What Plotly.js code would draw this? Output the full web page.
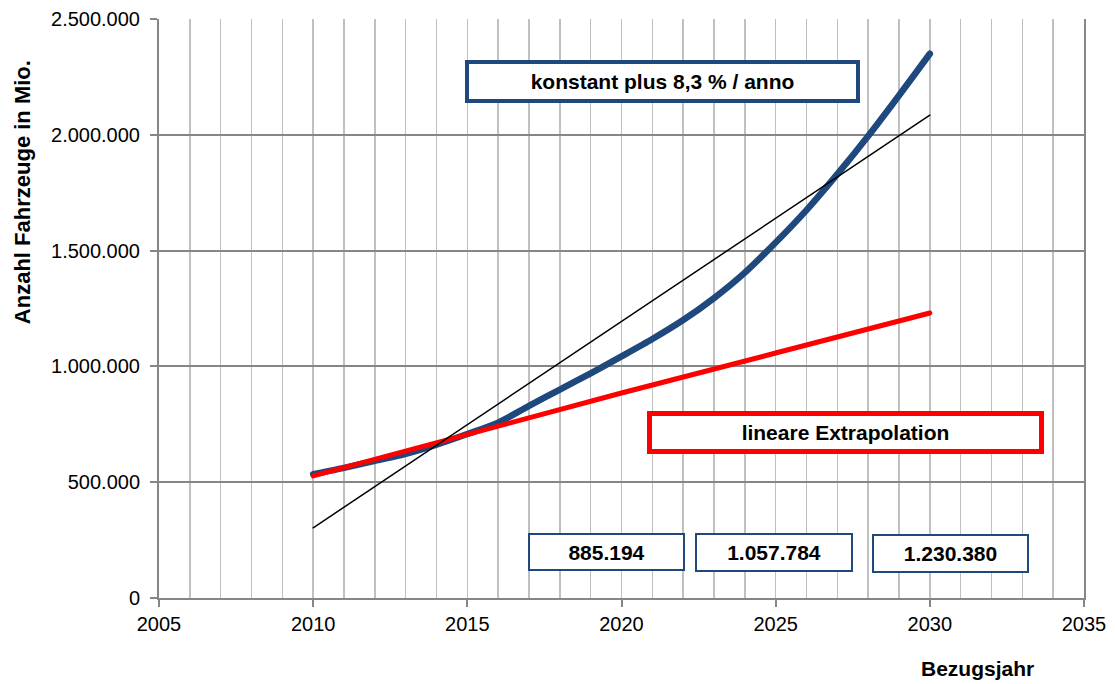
<!DOCTYPE html>
<html>
<head>
<meta charset="utf-8">
<script src="https://cdn.plot.ly/plotly-3.0.1.min.js"></script>
<style>
html,body{margin:0;padding:0;background:#fff;}
path.js-line{stroke-linecap:round;}
</style>
</head>
<body>
<div id="chart" style="width:1115px;height:684px;"></div>
<script>
// Blue series: constant growth 8.3 % per year
const years = [2010,2011,2012,2013,2014,2015,2016,2017,2018,2019,2020,2021,2022,2023,2024,2025,2026,2027,2028,2029,2030];
const growthValues = [535000,562000,592000,622000,662000,708000,757000,830000,900000,970000,1043000,1118000,1200000,1295000,1405000,1535000,1675000,1830000,1995000,2170000,2350000];
// Red series: linear extrapolation
const linearYears = [2010,2015,2020,2025,2030];
const linearValues = [527000,706000,885194,1057784,1230380];
// Black thin trend line
const trendYears = [2010,2030];
const trendValues = [303000,2085000];
// Labels
const growthLabel = 'konstant plus 8,3 % / anno';
const linearLabel = 'lineare Extrapolation';
const valueLabels = ['885.194','1.057.784','1.230.380'];
const xTitle = 'Bezugsjahr';
const yTitle = 'Anzahl Fahrzeuge in Mio.';

const FONT = 'Liberation Sans, Arial, sans-serif';
const BLUE = '#1F497D';
const RED = '#FF0000';

const traces = [
  {x: years, y: growthValues, type: 'scatter', mode: 'lines',
   line: {color: BLUE, width: 6.5, shape: 'spline', smoothing: 0.8}, hoverinfo: 'skip'},
  {x: linearYears, y: linearValues, type: 'scatter', mode: 'lines',
   line: {color: RED, width: 5}, hoverinfo: 'skip'},
  {x: trendYears, y: trendValues, type: 'scatter', mode: 'lines',
   line: {color: '#000000', width: 1.5}, hoverinfo: 'skip'}
];

function box(text, x, y, w, h, color, bw) {
  return {xref: 'paper', yref: 'paper', x: x, y: y, xanchor: 'center', yanchor: 'middle',
    text: '<b>' + text + '</b>', showarrow: false, bgcolor: '#ffffff',
    bordercolor: color, borderwidth: bw, borderpad: 0,
    width: w - 2*bw, height: h - 2*bw, align: 'center', valign: 'middle',
    font: {family: FONT, size: 21, color: '#000'}};
}

const annotations = [
  box(growthLabel, 0.5443, 0.8917, 395, 43, BLUE, 4),
  box(linearLabel, 0.7424, 0.2867, 397, 43, RED, 5),
  box(valueLabels[0], 0.4843, 0.0803, 157, 38, BLUE, 2),
  box(valueLabels[1], 0.6654, 0.0781, 158, 39, BLUE, 2),
  box(valueLabels[2], 0.8562, 0.0777, 157, 39, BLUE, 2),
  {xref: 'paper', yref: 'paper', x: 0.885, y: -0.122, xanchor: 'center', yanchor: 'middle',
   text: '<b>' + xTitle + '</b>', showarrow: false, font: {family: FONT, size: 21, color: '#000'}},
  {xref: 'paper', yref: 'paper', x: -0.1481, y: 0.701, xanchor: 'center', yanchor: 'middle',
   text: '<b>' + yTitle + '</b>', showarrow: false, textangle: -90, font: {family: FONT, size: 22, color: '#000'}}
];

const layout = {
  width: 1115, height: 684,
  margin: {l: 159, r: 31, t: 19, b: 86, pad: 0},
  paper_bgcolor: '#ffffff', plot_bgcolor: '#ffffff',
  showlegend: false,
  separators: ',.',
  font: {family: FONT, size: 20, color: '#000'},
  xaxis: {
    range: [2005, 2035], dtick: 5, tick0: 2005, tickformat: 'd',
    ticks: 'outside', ticklen: 7, tickwidth: 2, tickcolor: '#868686',
    showline: true, linecolor: '#868686', linewidth: 2,
    showgrid: true, gridcolor: '#c0c0c0', gridwidth: 1.5,
    minor: {dtick: 1, showgrid: true, gridcolor: '#c0c0c0', gridwidth: 1.5, ticks: ''},
    zeroline: false, tickfont: {family: FONT, size: 20, color: '#000'}
  },
  yaxis: {
    range: [0, 2500000], dtick: 500000, tickformat: ',d',
    ticks: 'outside', ticklen: 7, tickwidth: 2, tickcolor: '#868686',
    showline: true, linecolor: '#868686', linewidth: 2, mirror: true,
    showgrid: true, gridcolor: '#868686', gridwidth: 2,
    zeroline: false, tickfont: {family: FONT, size: 20, color: '#000'},
    ticklabelstandoff: 6
  },
  annotations: annotations
};

Plotly.newPlot('chart', traces, layout, {displayModeBar: false, staticPlot: true});
</script>
</body>
</html>
